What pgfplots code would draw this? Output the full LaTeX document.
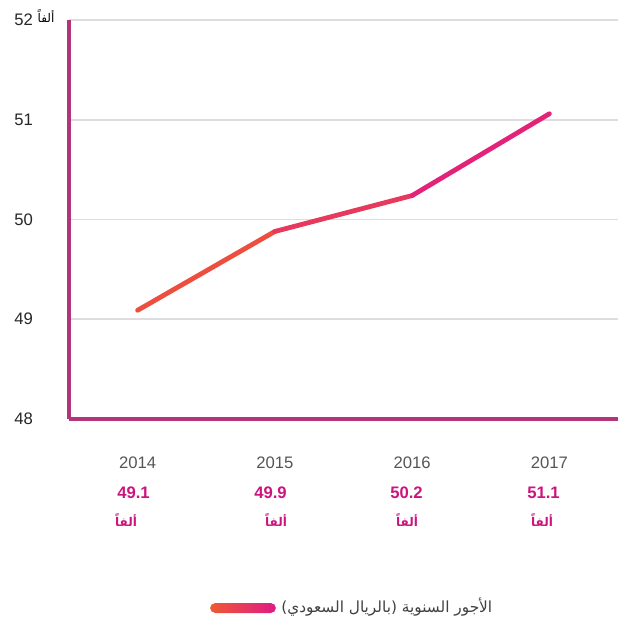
\documentclass[border=0pt]{standalone}
\usepackage{pgfplots}
\pgfplotsset{compat=1.18}
\usepackage{fontspec}
\setmainfont{Liberation Sans}
\newfontfamily\arabicfont[Script=Arabic]{DejaVu Sans}
\TeXXeTstate=1
\definecolor{axispurple}{RGB}{178,52,122}
\definecolor{valmag}{RGB}{204,20,128}
\definecolor{lineorange}{RGB}{238,90,50}
\definecolor{linemag}{RGB}{224,25,135}
\definecolor{yeargray}{RGB}{85,85,85}
\definecolor{gridgray}{RGB}{221,221,221}
\newcommand{\alfan}{{\arabicfont\beginR ألفاً\endR}}
\begin{document}
\begin{tikzpicture}
\begin{scope}[x=0.75pt, y=-0.75pt]
\useasboundingbox (0,0) rectangle (624,630);
\end{scope}
\begin{axis}[
    at={(51.75pt,-314.25pt)}, anchor=south west,
    scale only axis,
    width=411.75pt, height=299.25pt,
    xmin=2013.5, xmax=2017.5,
    ymin=48, ymax=52,
    axis x line=bottom, axis y line=left,
    axis line style={-, axispurple, line width=2.8pt},
    xtick={2014,2015,2016,2017},
    xticklabels={2014,2015,2016,2017},
    ytick={48,49,50,51,52},
    major tick length=0pt,
    /pgf/number format/assume math mode=true,
    ymajorgrids, grid style={gridgray, line width=1.3pt},
    xticklabel style={anchor=center, yshift=-33pt, text=yeargray, font=\fontsize{12.5}{15}\selectfont},
    yticklabel style={anchor=center, xshift=-34pt, text=black!85, font=\fontsize{12.5}{15}\selectfont},
    clip=false,
    colormap={og}{rgb255=(238,90,50) rgb255=(224,25,135)},
]
\addplot[mesh, point meta=x, line width=3.6pt, line cap=round] coordinates {
    (2014,49.09) (2015,49.88) (2016,50.24) (2017,51.06)
};
\end{axis}
\begin{scope}[x=0.75pt, y=-0.75pt]
% unit label next to the top tick
\node[anchor=center, font=\fontsize{9}{11}\selectfont] at (46,16) {\alfan};
% value labels under the years
\foreach \xx/\vv/\aa in {117/49.1/126, 254/49.9/276, 390/50.2/407, 527/51.1/542} {
    \node[anchor=west, inner sep=0, text=valmag, font=\bfseries\fontsize{12.5}{15}\selectfont] at (\xx,493) {\vv};
    \node[anchor=center, inner sep=0, text=valmag, font=\bfseries\fontsize{9}{11}\selectfont] at (\aa,520) {\alfan};
}
% legend
\shade[left color=lineorange, right color=linemag, rounded corners=4pt] (210,603) rectangle (276,613);
\node[anchor=west, inner sep=0, text=black!75, font=\fontsize{11.5}{14}\selectfont] at (281,607) {{\arabicfont\beginR الأجور السنوية (بالريال السعودي)\endR}};
\end{scope}
\end{tikzpicture}
\end{document}
